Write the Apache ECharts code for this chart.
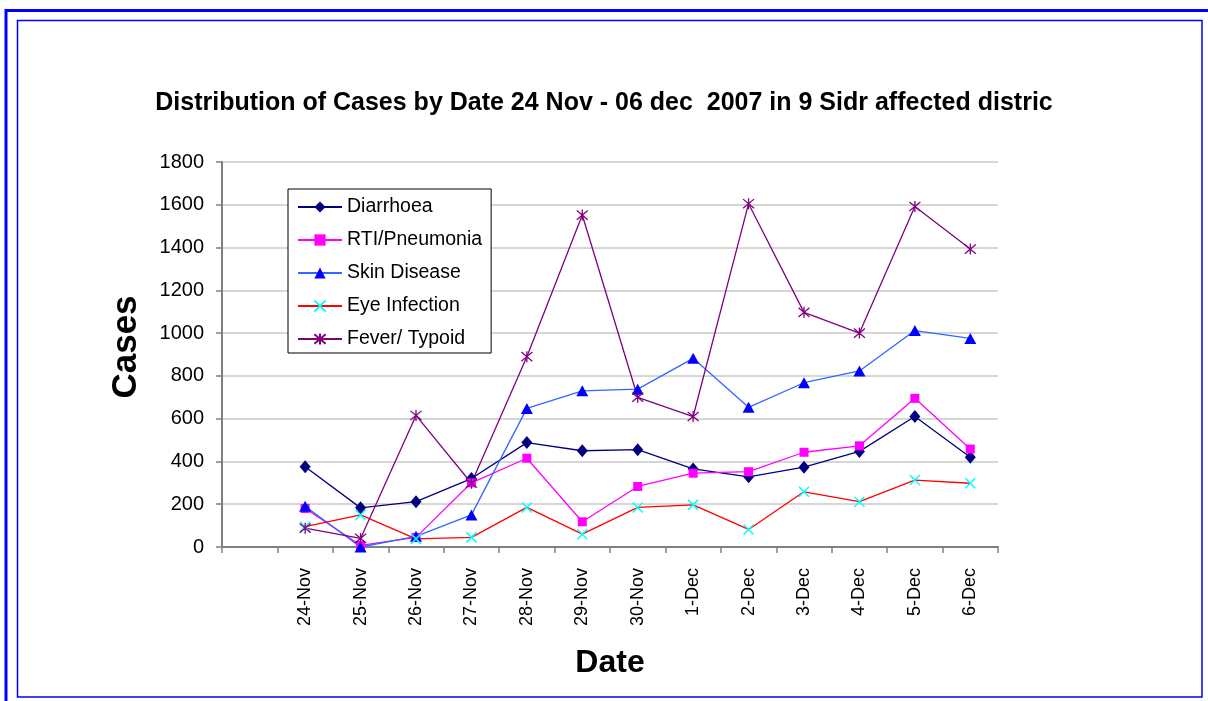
<!DOCTYPE html>
<html>
<head>
<meta charset="utf-8">
<script src="https://cdn.jsdelivr.net/npm/echarts@6/dist/echarts.min.js"></script>
<style>
html,body{margin:0;padding:0;background:#fff;}
#chart{width:1208px;height:701px;}
</style>
</head>
<body>
<div id="chart"></div>
<script>
var categories = ['', '24-Nov', '25-Nov', '26-Nov', '27-Nov', '28-Nov', '29-Nov', '30-Nov', '1-Dec', '2-Dec', '3-Dec', '4-Dec', '5-Dec', '6-Dec'];
var diarrhoea = [375, 183, 212, 320, 488, 450, 455, 365, 328, 373, 447, 610, 420];
var rtiPneumonia = [180, 8, 45, 300, 415, 118, 283, 345, 352, 443, 473, 695, 458];
var skinDisease = [190, 0, 50, 150, 648, 730, 738, 882, 653, 768, 823, 1012, 975];
var eyeInfection = [95, 150, 38, 45, 185, 60, 185, 197, 82, 258, 212, 313, 298];
var feverTypoid = [88, 40, 615, 298, 890, 1552, 700, 610, 1605, 1097, 1000, 1592, 1393];
var yTicks = [0, 200, 400, 600, 800, 1000, 1200, 1400, 1600, 1800];

var FONT = '"Liberation Sans", Arial, sans-serif';
function pad(arr) { return [null].concat(arr); }

var xPath = 'path://M0,0 L10,10 M10,0 L0,10';
var astPath = 'path://M0,0 L10,10 M10,0 L0,10 M5,-1 L5,11';

var chart = echarts.init(document.getElementById('chart'), null, {renderer: 'canvas'});
var option = {
  backgroundColor: '#ffffff',
  animation: false,
  title: {
    text: 'Distribution of Cases by Date 24 Nov - 06 dec  2007 in 9 Sidr affected distric',
    left: 'center',
    top: 86,
    textStyle: {fontFamily: FONT, fontSize: 25, fontWeight: 'bold', color: '#000'}
  },
  graphic: [
    {type: 'rect', shape: {x: 6, y: 10.5, width: 1230, height: 720}, style: {fill: 'none', stroke: '#0000FF', lineWidth: 3}, silent: true},
    {type: 'rect', shape: {x: 17.5, y: 20.5, width: 1184.5, height: 676.5}, style: {fill: 'none', stroke: '#0000FF', lineWidth: 1.5}, silent: true},
    {type: 'text', x: 126, y: 347, rotation: Math.PI / 2, silent: true,
      style: {text: 'Cases', fontFamily: FONT, fontSize: 35, fontWeight: 'bold', fill: '#000', align: 'center', verticalAlign: 'middle'}}
  ],
  legend: {
    orient: 'vertical',
    left: 288,
    top: 189,
    padding: [8, 9, 4, 9],
    itemGap: 13,
    itemWidth: 44,
    itemHeight: 14,
    borderColor: '#000',
    borderWidth: 1,
    backgroundColor: '#fff',
    textStyle: {fontFamily: FONT, fontSize: 19.5, color: '#000', lineHeight: 20},
    data: ['Diarrhoea', 'RTI/Pneumonia', 'Skin Disease', 'Eye Infection', 'Fever/ Typoid']
  },
  grid: {left: 222, right: 210, top: 162, bottom: 154, containLabel: false},
  xAxis: {
    type: 'category',
    data: categories,
    boundaryGap: true,
    name: 'Date',
    nameLocation: 'middle',
    nameGap: 100,
    nameTextStyle: {fontFamily: FONT, fontSize: 32, fontWeight: 'bold', color: '#000'},
    axisLine: {show: true, lineStyle: {color: '#808080', width: 2}},
    axisTick: {show: true, alignWithLabel: false, length: 6, inside: false, lineStyle: {color: '#808080', width: 1.5}},
    axisLabel: {rotate: 90, margin: 21, interval: 0, fontFamily: FONT, fontSize: 18, color: '#000'},
    splitLine: {show: false}
  },
  yAxis: {
    type: 'value',
    min: 0,
    max: 1800,
    interval: 200,
    axisLine: {show: true, lineStyle: {color: '#808080', width: 2}},
    axisTick: {show: true, length: 6, inside: false, lineStyle: {color: '#808080', width: 1.5}},
    axisLabel: {margin: 18, fontFamily: FONT, fontSize: 20, color: '#000',
      formatter: function (v) { return yTicks.indexOf(v) >= 0 ? String(v) : ''; }},
    splitLine: {show: true, lineStyle: {color: '#C8C8C8', width: 1.5}}
  },
  series: [
    {name: 'Diarrhoea', type: 'line', data: pad(diarrhoea), symbol: 'diamond', symbolSize: [11, 13],
      itemStyle: {color: '#000080'}, lineStyle: {color: '#000080', width: 1.3}},
    {name: 'RTI/Pneumonia', type: 'line', data: pad(rtiPneumonia), symbol: 'rect', symbolSize: 9,
      itemStyle: {color: '#FF00FF'}, lineStyle: {color: '#FF00FF', width: 1.3}},
    {name: 'Skin Disease', type: 'line', data: pad(skinDisease), symbol: 'triangle', symbolSize: [12, 11],
      itemStyle: {color: '#0000FF'}, lineStyle: {color: '#3366FF', width: 1.3}},
    {name: 'Eye Infection', type: 'line', data: pad(eyeInfection), symbol: xPath, symbolSize: 10,
      itemStyle: {color: 'rgba(0,0,0,0)', borderColor: '#00FFFF', borderWidth: 1.5}, lineStyle: {color: '#FF0000', width: 1.3}},
    {name: 'Fever/ Typoid', type: 'line', data: pad(feverTypoid), symbol: astPath, symbolSize: 11,
      itemStyle: {color: 'rgba(0,0,0,0)', borderColor: '#800080', borderWidth: 1.3}, lineStyle: {color: '#800080', width: 1.3}}
  ]
};
chart.setOption(option);
</script>
</body>
</html>
